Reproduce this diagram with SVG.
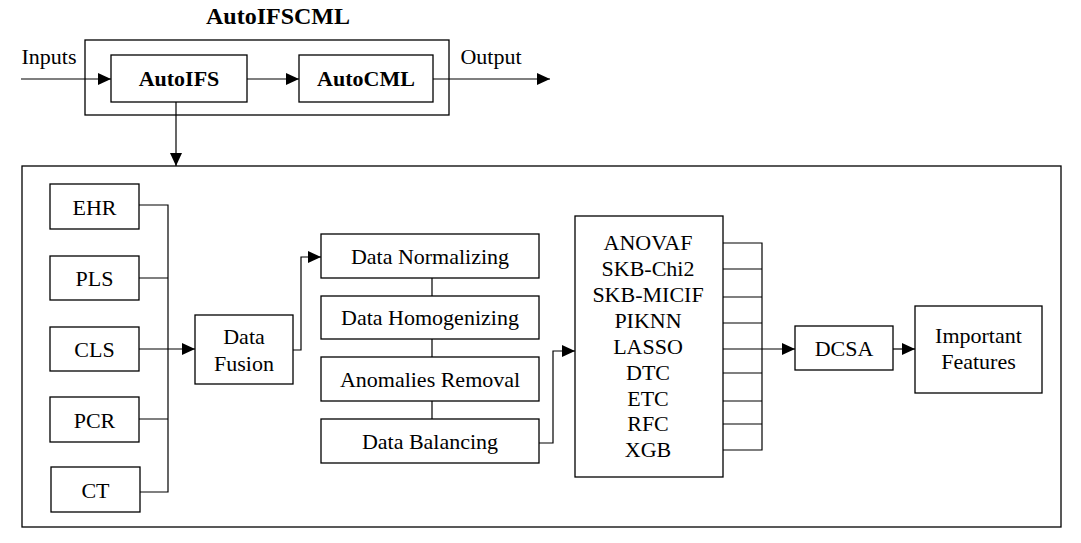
<svg xmlns="http://www.w3.org/2000/svg" width="1081" height="543" viewBox="0 0 1081 543">
<style>
.b{fill:#fff;stroke:#000;stroke-width:1.3}
.t{font-family:"Liberation Serif","Times New Roman",serif;font-size:22px;fill:#000;text-anchor:middle}
.tb{font-family:"Liberation Serif","Times New Roman",serif;font-size:22px;font-weight:bold;fill:#000;text-anchor:middle}
.l{fill:none;stroke:#000;stroke-width:1.2}
.a{fill:none;stroke:#000;stroke-width:1.2;marker-end:url(#ah)}
</style>
<defs>
<marker id="ah" markerUnits="userSpaceOnUse" markerWidth="14" markerHeight="12" refX="13" refY="6" orient="auto">
<path d="M0,0 L13,6 L0,12 Z" fill="#000"/>
</marker>
</defs>
<rect width="1081" height="543" fill="#fff"/>
<text x="278" y="24" class="tb" style="font-size:24px">AutoIFSCML</text>
<g id="container-top"><rect class="b" x="85" y="40" width="364" height="75"/></g>
<g id="container-bottom"><rect class="b" x="22" y="166" width="1039" height="361"/></g>
<g id="autoifs"><rect class="b" x="111" y="55" width="136" height="47"/><text x="179" y="86" class="tb">AutoIFS</text></g>
<g id="autocml"><rect class="b" x="299" y="55" width="134" height="47"/><text x="366" y="86" class="tb">AutoCML</text></g>
<g id="ehr"><rect class="b" x="50" y="184" width="89" height="45"/><text x="94.5" y="215" class="t">EHR</text></g>
<g id="pls"><rect class="b" x="50" y="256" width="89" height="44"/><text x="94.5" y="286" class="t">PLS</text></g>
<g id="cls"><rect class="b" x="50" y="327" width="89" height="44"/><text x="94.5" y="357" class="t">CLS</text></g>
<g id="pcr"><rect class="b" x="50" y="397" width="89" height="45"/><text x="94.5" y="428" class="t">PCR</text></g>
<g id="ct"><rect class="b" x="51" y="467" width="89" height="45"/><text x="95.5" y="498" class="t">CT</text></g>
<g id="fusion"><rect class="b" x="195" y="315" width="98" height="69"/><text x="244" y="344" class="t">Data</text><text x="244" y="371" class="t">Fusion</text></g>
<g id="normalizing"><rect class="b" x="321" y="234" width="218" height="44"/><text x="430" y="264" class="t">Data Normalizing</text></g>
<g id="homogenizing"><rect class="b" x="321" y="296" width="218" height="43"/><text x="430" y="325" class="t">Data Homogenizing</text></g>
<g id="anomalies"><rect class="b" x="321" y="357" width="218" height="44"/><text x="430" y="387" class="t">Anomalies Removal</text></g>
<g id="balancing"><rect class="b" x="321" y="419" width="218" height="44"/><text x="430" y="449" class="t">Data Balancing</text></g>
<g id="models"><rect class="b" x="575" y="216" width="148" height="261"/>
<text x="648" y="250" class="t">ANOVAF</text>
<text x="648" y="276" class="t">SKB-Chi2</text>
<text x="648" y="302" class="t">SKB-MICIF</text>
<text x="648" y="328" class="t">PIKNN</text>
<text x="648" y="354" class="t">LASSO</text>
<text x="648" y="380" class="t">DTC</text>
<text x="648" y="406" class="t">ETC</text>
<text x="648" y="431" class="t">RFC</text>
<text x="648" y="457" class="t">XGB</text>
</g>
<g id="dcsa"><rect class="b" x="795" y="326" width="98" height="44"/><text x="844" y="356" class="t">DCSA</text></g>
<g id="important"><rect class="b" x="915" y="306" width="127" height="87"/><text x="978.5" y="343" class="t">Important</text><text x="978.5" y="369" class="t">Features</text></g>
<g id="labels">
<text x="49" y="64" class="t">Inputs</text>
<text x="491" y="64" class="t">Output</text>
</g>
<g id="connectors">
<path class="a" d="M21,79 H111"/>
<path class="a" d="M247,79 H299"/>
<path class="a" d="M433,79 H550"/>
<path class="a" d="M176,102 V166"/>
<path class="l" d="M139,205 H168 V492 H140 M139,278 H168 M139,419 H168"/>
<path class="a" d="M139,349 H195"/>
<path class="a" d="M293,350 H301 V257 H321"/>
<path class="l" d="M432,278 V296 M432,339 V357 M432,401 V419"/>
<path class="a" d="M539,443 H553 V351 H575"/>
<path class="l" d="M723,243 H762 V450 H723 M723,269 H762 M723,297 H762 M723,323 H762 M723,373 H762 M723,401 H762 M723,424 H762"/>
<path class="a" d="M723,349 H795"/>
<path class="a" d="M893,349 H915"/>
</g>
</svg>
